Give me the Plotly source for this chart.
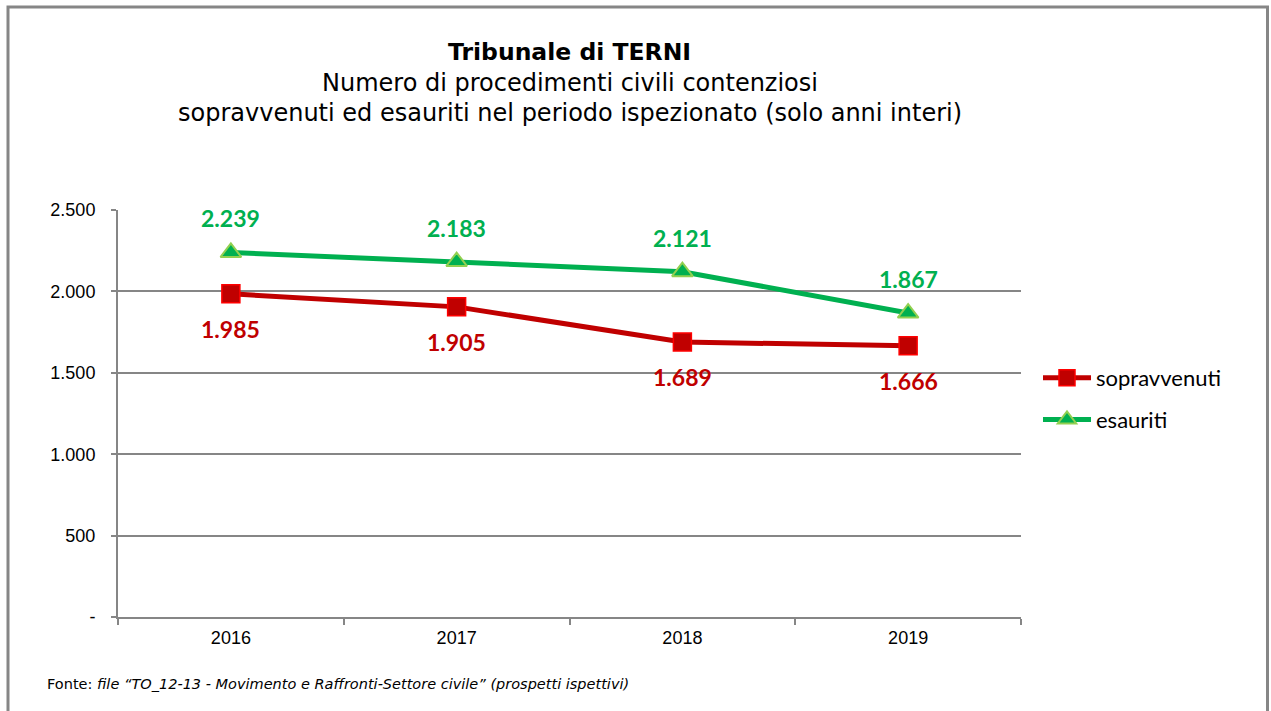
import plotly.graph_objects as go

years = ["2016", "2017", "2018", "2019"]
sopravvenuti = [1985, 1905, 1689, 1666]
esauriti = [2239, 2183, 2121, 1867]
y_ticks = [0, 500, 1000, 1500, 2000, 2500]
y_tick_labels = ["-", "500", "1.000", "1.500", "2.000", "2.500"]

def fmt(v):
    return f"{v:,}".replace(",", ".")

RED = "#C00000"
GREEN = "#00B050"

W, H = 1271, 711
ML, MR, MT, MB = 118, 250, 210, 94
PW = W - ML - MR
PH = H - MT - MB

def px_x(x):
    return (x - ML) / PW

def px_y(y):
    return (H - MB - y) / PH

fig = go.Figure()
fig.add_trace(go.Scatter(
    x=years, y=sopravvenuti, name="sopravvenuti", mode="lines+markers",
    line=dict(color=RED, width=5),
    marker=dict(symbol="square", size=18, color=RED, line=dict(color="#FF0000", width=1.5)),
    legendgroup="a",
))
fig.add_trace(go.Scatter(
    x=years, y=esauriti, name="esauriti", mode="lines+markers",
    line=dict(color=GREEN, width=5),
    marker=dict(symbol="triangle-up", size=18, color=GREEN, line=dict(color="#92D050", width=2)),
    legendgroup="b",
))

annotations = []
for i, v in enumerate(sopravvenuti):
    annotations.append(dict(x=i, y=v, xref="x", yref="y", text=fmt(v), showarrow=False,
                            yshift=-35, font=dict(family="Lato", size=23, color=RED, weight="bold")))
for i, v in enumerate(esauriti):
    annotations.append(dict(x=i, y=v, xref="x", yref="y", text=fmt(v), showarrow=False,
                            yshift=34, font=dict(family="Lato", size=23, color=GREEN, weight="bold")))

title_font = "DejaVu Sans"
annotations += [
    dict(x=0.5, y=px_y(52), xref="paper", yref="paper", text="<b>Tribunale di TERNI</b>",
         showarrow=False, font=dict(family=title_font, size=23.5, color="#000000"), yanchor="middle"),
    dict(x=0.5, y=px_y(83), xref="paper", yref="paper", text="Numero di procedimenti civili contenziosi",
         showarrow=False, font=dict(family=title_font, size=24, color="#000000"), yanchor="middle"),
    dict(x=0.5, y=px_y(113), xref="paper", yref="paper",
         text="sopravvenuti ed esauriti nel periodo ispezionato (solo anni interi)",
         showarrow=False, font=dict(family=title_font, size=24, color="#000000"), yanchor="middle"),
    dict(x=px_x(45), y=px_y(684), xref="paper", yref="paper", xanchor="left", yanchor="middle",
         text="Fonte: <i>file \u201cTO_12-13 - Movimento e Raffronti-Settore civile\u201d (prospetti ispettivi)</i>",
         showarrow=False, font=dict(family="DejaVu Sans", size=14.5, color="#000000")),
]

fig.update_layout(
    width=W, height=H,
    margin=dict(l=ML, r=MR, t=MT, b=MB),
    paper_bgcolor="white", plot_bgcolor="white",
    showlegend=True,
    legend=dict(x=px_x(1038), y=px_y(399), xanchor="left", yanchor="middle",
                font=dict(family="Lato", size=22, color="#000000"),
                traceorder="grouped", tracegroupgap=10, itemwidth=48,
                bgcolor="rgba(0,0,0,0)"),
    annotations=annotations,
    shapes=[dict(type="rect", xref="paper", yref="paper",
                 x0=px_x(8), x1=px_x(1267.5), y0=px_y(730), y1=px_y(7),
                 line=dict(color="#868686", width=3), fillcolor="rgba(0,0,0,0)", layer="below")],
)

fig.update_xaxes(
    type="category", range=[-0.5, 3.5],
    showline=True, linecolor="#868686", linewidth=2,
    ticks="outside", tickson="boundaries", ticklen=6, tickcolor="#868686", tickwidth=2,
    showgrid=False, zeroline=False,
    tickfont=dict(family="Arial", size=18, color="#000000"),
    ticklabelstandoff=3,
)
fig.update_yaxes(
    range=[0, 2500], tickvals=y_ticks, ticktext=y_tick_labels,
    showline=True, linecolor="#868686", linewidth=2,
    ticks="outside", ticklen=5, tickcolor="#868686", tickwidth=2,
    showgrid=True, gridcolor="#868686", gridwidth=2, zeroline=False,
    tickfont=dict(family="Arial", size=18, color="#000000"),
    ticklabelstandoff=12,
)

fig.write_html("out.html", config={"displayModeBar": False},
               post_script="document.body.style.margin='0';document.body.style.overflow='hidden';")
